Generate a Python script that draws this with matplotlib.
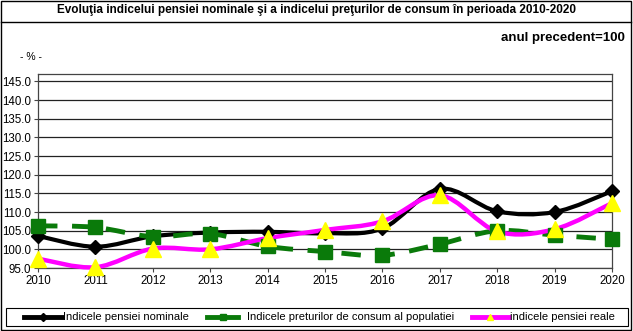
import numpy as np
import matplotlib
matplotlib.use("Agg")
import matplotlib.pyplot as plt
from matplotlib.path import Path
from matplotlib.patches import PathPatch, Rectangle
from matplotlib.lines import Line2D

plt.rcParams["font.family"] = ["Liberation Sans", "DejaVu Sans"]

years = [2010, 2011, 2012, 2013, 2014, 2015, 2016, 2017, 2018, 2019, 2020]
pensie_nominala = [103.6, 100.7, 103.5, 104.5, 104.7, 104.3, 105.6, 116.2, 110.2, 110.0, 115.6]
preturi_consum = [106.3, 105.9, 103.4, 104.2, 100.8, 99.4, 98.4, 101.4, 105.0, 103.8, 102.7]
pensie_reala = [97.5, 95.2, 100.2, 100.0, 103.0, 105.2, 107.5, 114.5, 104.8, 105.4, 112.4]
yticks = np.arange(95, 146, 5)


def smooth_path(x, y):
    # bezier path like excel "smoothed line"
    pts = np.column_stack([x, y]).astype(float)
    n = len(pts)
    verts = [pts[0]]
    codes = [Path.MOVETO]
    for i in range(n - 1):
        p0 = pts[max(i - 1, 0)]
        p1 = pts[i]
        p2 = pts[i + 1]
        p3 = pts[min(i + 2, n - 1)]
        verts += [p1 + (p2 - p0) / 6, p2 - (p3 - p1) / 6, p2]
        codes += [Path.CURVE4] * 3
    return Path(verts, codes)


W, H = 633, 331
fig = plt.figure(figsize=(W / 100, H / 100), dpi=100)
ax = fig.add_axes([38 / W, 1 - 268 / H, (612 - 38) / W, (268 - 74) / H])

series = [
    (pensie_nominala, "black", "-", "D", 7, 3.0, "Indicele pensiei nominale"),
    (preturi_consum, "#0a7a0a", (0, (4, 3)), "s", 10, 3.5, "Indicele preturilor de consum al populatiei"),
    (pensie_reala, "#ff00ff", "-", "^", 11, 3.2, "indicele pensiei reale"),
]
for vals, col, ls, mk, ms, lw, lab in series:
    ax.add_patch(PathPatch(smooth_path(years, vals), fill=False, edgecolor=col,
                           lw=lw, linestyle=ls, capstyle="butt", zorder=3, clip_on=False))
    mfc = "yellow" if mk == "^" else col
    ax.plot(years, vals, ls="none", marker=mk, ms=ms, mfc=mfc, mec=mfc, zorder=4, clip_on=False)

ax.set_xlim(2010, 2020)
ax.set_ylim(95, 147)
ax.set_xticks(years)
ax.set_yticks(yticks)
ax.set_yticklabels([f"{v:.1f}" for v in yticks])
ax.tick_params(labelsize=8.3, length=3, color="#444444", pad=2)
ax.grid(axis="y", color="#222222", lw=0.9)
ax.set_axisbelow(True)
for s in ax.spines.values():
    s.set_color("#444444")
    s.set_linewidth(0.9)

fig.text(0.5, 1 - 10 / H, "Evoluţia indicelui pensiei nominale şi a indicelui preţurilor de consum în perioada 2010-2020",
         ha="center", va="center", fontsize=8.5, fontweight="bold")
fig.text(625 / W, 1 - 38 / H, "anul precedent=100", ha="right", va="center", fontsize=9.5, fontweight="bold")
fig.text(31 / W, 1 - 57 / H, "- % -", ha="center", va="center", fontsize=7.5)

# outer frames
fig.add_artist(Rectangle((0.002, 0.003), 0.995, 0.994, transform=fig.transFigure,
                         fill=False, edgecolor="black", lw=1.0))
fig.add_artist(Line2D([0.002, 0.997], [1 - 22 / H] * 2, transform=fig.transFigure, color="black", lw=1.0))

# legend drawn by hand so entries sit where the reference has them
fig.add_artist(Rectangle((6 / W, 1 - 326 / H), (628 - 6) / W, 18 / H, transform=fig.transFigure,
                         fill=False, edgecolor="black", lw=0.8))
ly = 1 - 317 / H
leg_pos = [(24, 62, 63), (207, 238, 247), (472, 508, 510)]
for (vals, col, ls, mk, ms, lw, lab), (x0, x1, xt) in zip(series, leg_pos):
    mfc = "yellow" if mk == "^" else col
    fig.add_artist(Line2D([x0 / W, x1 / W], [ly, ly], transform=fig.transFigure, color=col, lw=3.5))
    fig.add_artist(Line2D([(x0 + x1) / 2 / W], [ly], transform=fig.transFigure, ls="none",
                          marker=mk, ms=4, mfc=mfc, mec=mfc))
    fig.text(xt / W, ly, lab, ha="left", va="center", fontsize=8)

fig.savefig("out.png", dpi=100)
